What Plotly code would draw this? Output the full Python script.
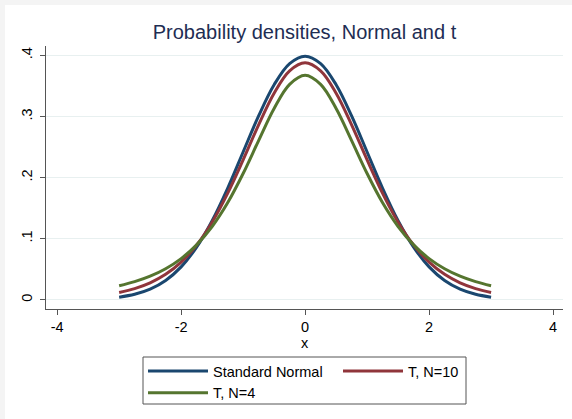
import plotly.graph_objects as go

# x grid
x_vals = [-3.0, -2.75, -2.5, -2.25, -2.0, -1.75, -1.5, -1.25, -1.0, -0.75, -0.5, -0.25, 0.0,
          0.25, 0.5, 0.75, 1.0, 1.25, 1.5, 1.75, 2.0, 2.25, 2.5, 2.75, 3.0]

normal_vals = [0.0044, 0.0091, 0.0175, 0.0317, 0.0540, 0.0863, 0.1295, 0.1826, 0.2420, 0.3011, 0.3521, 0.3867, 0.3989,
               0.3867, 0.3521, 0.3011, 0.2420, 0.1826, 0.1295, 0.0863, 0.0540, 0.0317, 0.0175, 0.0091, 0.0044]

t10_vals = [0.0121, 0.0184, 0.0278, 0.0417, 0.0617, 0.0897, 0.1271, 0.1743, 0.2291, 0.2865, 0.3383, 0.3748, 0.3880,
            0.3748, 0.3383, 0.2865, 0.2291, 0.1743, 0.1271, 0.0897, 0.0617, 0.0417, 0.0278, 0.0184, 0.0121]

t4_vals = [0.0230, 0.0297, 0.0387, 0.0509, 0.0675, 0.0900, 0.1200, 0.1589, 0.2068, 0.2607, 0.3132, 0.3527, 0.3676,
           0.3527, 0.3132, 0.2607, 0.2068, 0.1589, 0.1200, 0.0900, 0.0675, 0.0509, 0.0387, 0.0297, 0.0230]

series_names = ["Standard Normal", "T, N=10", "T, N=4"]
series_colors = ["#1a476f", "#90353b", "#55752f"]

x_ticks = [-4, -2, 0, 2, 4]
x_tick_labels = ["-4", "-2", "0", "2", "4"]
y_ticks = [0, 0.1, 0.2, 0.3, 0.4]
y_tick_labels = ["0", ".1", ".2", ".3", ".4"]

FONT = "Liberation Sans, Arial, sans-serif"
W, H = 572, 419
ML, MR, MT, MB = 46, 9, 46, 110
PW, PH = W - ML - MR, H - MT - MB


def px_x(p):
    return (p - ML) / PW


def px_y(p):
    return (H - MB - p) / PH


fig = go.Figure()
for name, vals, col in zip(series_names, [normal_vals, t10_vals, t4_vals], series_colors):
    fig.add_trace(go.Scatter(x=x_vals, y=vals, mode="lines", name=name,
                             line=dict(color=col, width=3, shape="spline")))

# white graph region over light gray outer strip (top/left)
fig.add_shape(type="rect", xref="paper", yref="paper",
              x0=px_x(5), x1=px_x(580), y0=px_y(430), y1=px_y(5),
              fillcolor="white", line=dict(width=0), layer="below")
# legend frame
fig.add_shape(type="rect", xref="paper", yref="paper",
              x0=px_x(143), x1=px_x(466), y0=px_y(404), y1=px_y(357),
              fillcolor="rgba(0,0,0,0)", line=dict(color="#555555", width=1), layer="above")

fig.update_layout(
    width=W, height=H,
    margin=dict(l=ML, r=MR, t=MT, b=MB, autoexpand=False),
    paper_bgcolor="#f4f4f4",
    plot_bgcolor="white",
    font=dict(family=FONT, size=14.5, color="black"),
    title=dict(text="Probability densities, Normal and t", x=0.5, xref="paper", xanchor="center",
               y=1 - 32 / H, yref="container", yanchor="middle",
               font=dict(family=FONT, size=20, color="#1e2d53")),
    xaxis=dict(range=[-4.18, 4.16], tickvals=x_ticks, ticktext=x_tick_labels, automargin=False,
               showgrid=False, zeroline=False, showline=True, linecolor="#555555", linewidth=1,
               ticks="outside", ticklen=5, tickcolor="#555555",
               title=dict(text="x", font=dict(size=14.5), standoff=0)),
    yaxis=dict(range=[-0.0150, 0.4155], tickvals=y_ticks, ticktext=y_tick_labels, automargin=False,
               showgrid=True, gridcolor="#e8f0f0", gridwidth=1, zeroline=False,
               showline=True, linecolor="#555555", linewidth=1,
               ticks="outside", ticklen=5, tickcolor="#555555", tickangle=-90, ticklabelstandoff=2),
    legend=dict(orientation="h", x=px_x(143), xanchor="left", y=px_y(355), yanchor="top",
                borderwidth=0, bgcolor="rgba(0,0,0,0)",
                entrywidth=120, entrywidthmode="pixels",
                font=dict(family=FONT, size=14.5), itemwidth=60, tracegroupgap=0),
    showlegend=True,
)

fig.write_html("out.html", config={"displayModeBar": False},
               post_script="document.body.style.margin='0';document.body.style.overflow='hidden';")
